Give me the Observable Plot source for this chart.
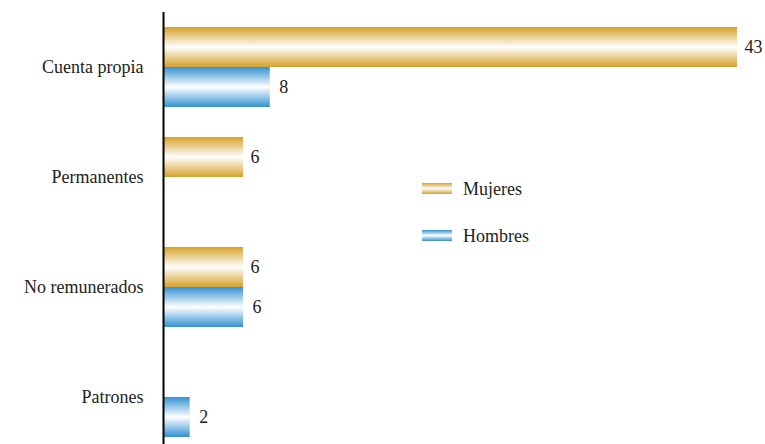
<!DOCTYPE html>
<html>
<head>
<meta charset="utf-8">
<script src="https://cdn.jsdelivr.net/npm/d3@7"></script>
<script src="https://cdn.jsdelivr.net/npm/@observablehq/plot@0.6"></script>
<style>
  html, body { margin: 0; padding: 0; background: #fff; }
  #wrap { position: relative; width: 765px; height: 444px; font-family: "Liberation Serif", serif; }
  .legend { position: absolute; left: 422px; font-size: 18px; color: #222; }
  .legend .item { position: absolute; left: 0; width: 200px; height: 22px; }
  .legend .sw { position: absolute; left: 0; width: 30px; height: 11px; }
  .legend .lab { position: absolute; left: 41px; top: 50%; transform: translateY(-50%); white-space: nowrap; }
</style>
</head>
<body>
<div id="wrap"></div>
<script>
const categories = ["Cuenta propia", "Permanentes", "No remunerados", "Patrones"];
const seriesNames = ["Mujeres", "Hombres"];
const mujeres = [43, 6, 6, null];
const hombres = [8, null, 6, 2];
const seriesColors = ["#d6a12b", "#3391d2"];
const serif = "Liberation Serif";

const rows = [];
categories.forEach((c, i) => {
  if (mujeres[i] != null) rows.push({category: c, series: seriesNames[0], value: mujeres[i]});
  if (hombres[i] != null) rows.push({category: c, series: seriesNames[1], value: hombres[i]});
});
const muj = rows.filter(d => d.series === seriesNames[0]);
const hom = rows.filter(d => d.series === seriesNames[1]);

const chart = Plot.plot({
  width: 765,
  height: 444,
  marginLeft: 163,
  marginRight: 28,
  marginTop: 12,
  marginBottom: 0,
  style: "font-family: 'Liberation Serif', serif; font-size: 18px; color: #222; background: white;",
  x: {domain: [0, 43], axis: null},
  y: {domain: categories, paddingInner: 30 / 110, paddingOuter: 0.09, align: 0.7, axis: null},
  marks: [
    Plot.axisY({tickSize: 0, tickPadding: 20, label: null, fontSize: 18, fill: "#222"}),
    Plot.barX(muj, {x: "value", y: "category", insetBottom: 40, fill: "url(#gradM)"}),
    Plot.barX(hom, {x: "value", y: "category", insetTop: 40, fill: "url(#gradH)"}),
    Plot.text(muj, {x: "value", y: "category", text: d => String(d.value), dy: -20, dx: 7, textAnchor: "start", fontSize: 18, fill: "#222"}),
    Plot.text(hom, {x: "value", y: "category", text: d => String(d.value), dy: 20, dx: 9, textAnchor: "start", fontSize: 18, fill: "#222"}),
    Plot.ruleX([0], {stroke: "#000", strokeWidth: 2})
  ]
});

const svg = d3.select(chart);
svg.selectAll("text").attr("font-family", serif);
const defs = svg.insert("defs", ":first-child");
[["gradM", seriesColors[0]], ["gradH", seriesColors[1]]].forEach(([id, col]) => {
  const g = defs.append("linearGradient").attr("id", id).attr("x1", 0).attr("y1", 0).attr("x2", 0).attr("y2", 1);
  g.append("stop").attr("offset", "0%").attr("stop-color", col);
  g.append("stop").attr("offset", "50%").attr("stop-color", "#ffffff");
  g.append("stop").attr("offset", "100%").attr("stop-color", col);
});

const wrap = document.getElementById("wrap");
wrap.appendChild(chart);

const legend = document.createElement("div");
legend.className = "legend";
legend.style.top = "0px";
const tops = [178, 225];
seriesNames.forEach((name, i) => {
  const item = document.createElement("div");
  item.className = "item";
  item.style.top = tops[i] + "px";
  const sw = document.createElement("div");
  sw.className = "sw";
  sw.style.top = "5px";
  sw.style.background = `linear-gradient(to bottom, ${seriesColors[i]}, #ffffff 50%, ${seriesColors[i]})`;
  const lab = document.createElement("span");
  lab.className = "lab";
  lab.textContent = name;
  item.appendChild(sw);
  item.appendChild(lab);
  legend.appendChild(item);
});
wrap.appendChild(legend);
</script>
</body>
</html>
